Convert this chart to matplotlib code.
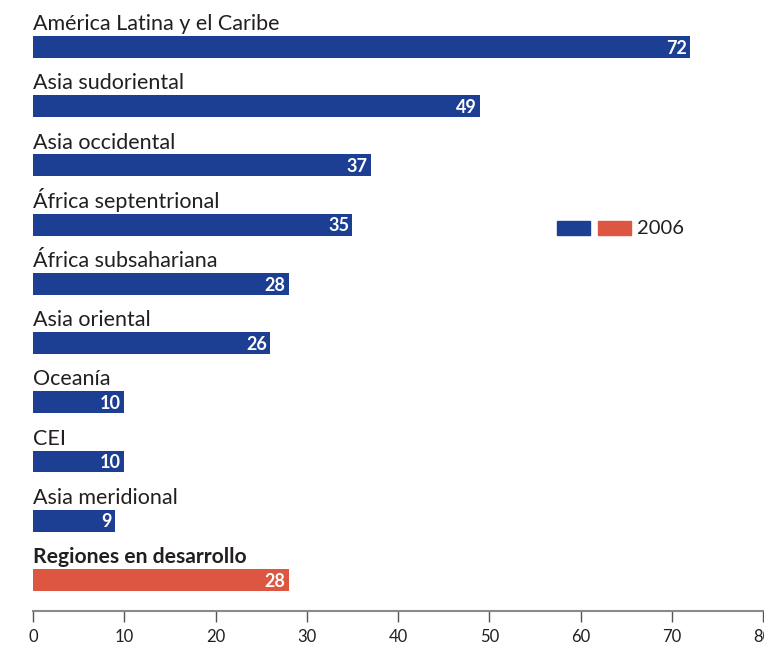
import matplotlib.pyplot as plt
from matplotlib.patches import Rectangle

regions = ['América Latina y el Caribe', 'Asia sudoriental', 'Asia occidental',
           'África septentrional', 'África subsahariana', 'Asia oriental',
           'Oceanía', 'CEI', 'Asia meridional', 'Regiones en desarrollo']
values = [72, 49, 37, 35, 28, 26, 10, 10, 9, 28]
xticks = [0, 10, 20, 30, 40, 50, 60, 70, 80]

blue = '#1c3f94'
red = '#dc5642'
colors = [blue] * 9 + [red]

plt.rcParams['font.family'] = ['Lato', 'DejaVu Sans']

fig = plt.figure(figsize=(7.64, 6.46), dpi=100)
ax = fig.add_axes([33 / 764, 1 - 611 / 646, 730 / 764, 611 / 646])

pos = list(range(len(regions)))
bh = 0.37
ax.barh(pos, values, height=bh, color=colors)
ax.set_ylim(9.524, -0.794)
ax.set_xlim(0, 80)

for i, (name, v) in enumerate(zip(regions, values)):
    bold = name == 'Regiones en desarrollo'
    ax.text(0, i - bh / 2 - 0.1, name, ha='left', va='baseline',
            fontsize=15.2 if bold else 15.5,
            color='#231f20', fontweight='bold' if bold else 'normal')
    ax.text(v - 0.35, i + 0.02, str(v), ha='right', va='center', fontsize=13,
            color='white', fontweight='bold')

for s in ['top', 'right', 'left']:
    ax.spines[s].set_visible(False)
ax.spines['bottom'].set_color('#8a8a8a')
ax.spines['bottom'].set_linewidth(1.5)
ax.set_yticks([])
ax.set_xticks(xticks)
ax.set_xticklabels([str(t) for t in xticks], fontsize=12, color='#231f20')
ax.tick_params(axis='x', direction='out', length=8, width=1, color='#555555', pad=5)

# legend
W, H = 764, 646
fig.patches.append(Rectangle((557 / W, 1 - 235 / H), 33 / W, 14 / H,
                             transform=fig.transFigure, color=blue))
fig.patches.append(Rectangle((598 / W, 1 - 235 / H), 33 / W, 14 / H,
                             transform=fig.transFigure, color=red))
fig.text(637 / W, 1 - 228 / H, '2006', ha='left', va='center', fontsize=14.5, color='#231f20')

fig.savefig('out.png', dpi=100)
